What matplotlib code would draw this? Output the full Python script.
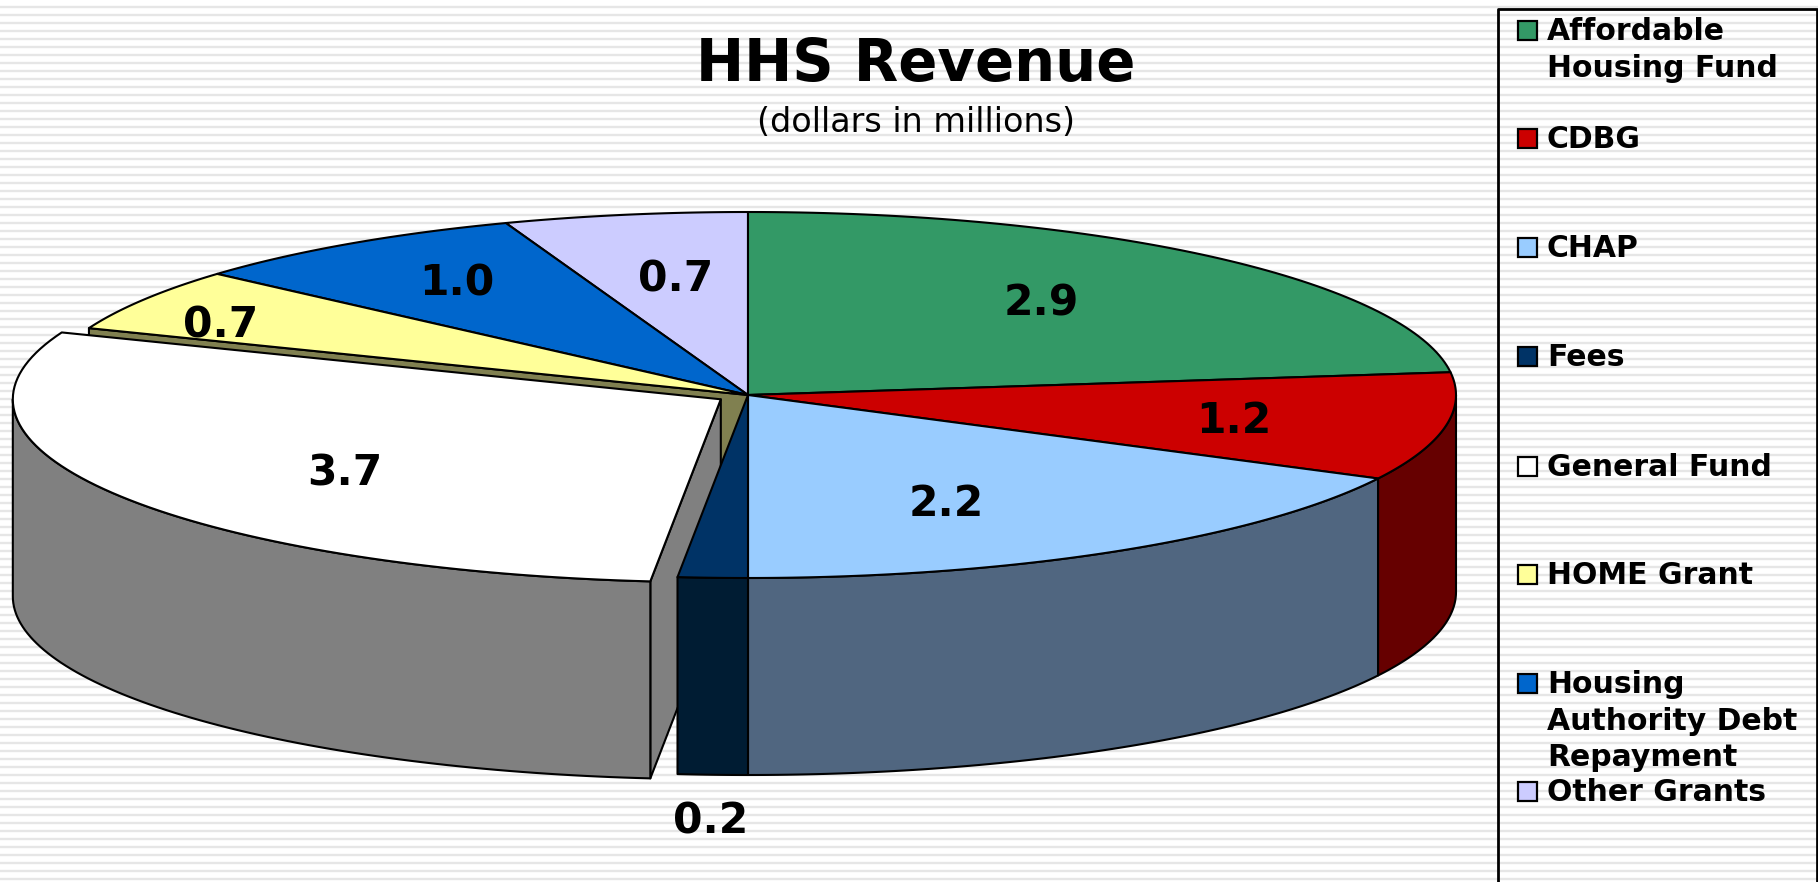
import numpy as np
import matplotlib
matplotlib.use('Agg')
import matplotlib.pyplot as plt
from matplotlib.patches import Polygon, Rectangle

names = ['Affordable\nHousing Fund', 'CDBG', 'CHAP', 'Fees', 'General Fund',
         'HOME Grant', 'Housing\nAuthority Debt\nRepayment', 'Other Grants']
values = [2.9, 1.2, 2.2, 0.2, 3.7, 0.7, 1.0, 0.7]
top_colors = ['#339966', '#CC0000', '#99CCFF', '#003366', '#FFFFFF', '#FFFF99', '#0066CC', '#CCCCFF']
side_colors = ['#1A4D33', '#660000', '#506680', '#001C33', '#808080', '#808050', '#003366', '#666680']

# layout of the fake 3d pie, figure pixels
cx, cy = 748, 395
rx, ry = 708, 183
depth = 197
explode = 0.045

fig = plt.figure(figsize=(18.18, 8.82), dpi=100)
ax = fig.add_axes([0, 0, 1, 1])
ax.set_xlim(0, 1818)
ax.set_ylim(882, 0)
ax.axis('off')

# striped slide background
for y in np.arange(6.5, 882, 8):
    ax.axhline(y, color='#E6E6E6', lw=1.7, zorder=0)


def pt(t, x0, y0):
    r = np.radians(t)
    return x0 + rx * np.sin(r), y0 - ry * np.cos(r)


def arc(t0, t1, x0, y0):
    ts = np.linspace(t0, t1, 80)
    return np.column_stack(pt(ts, x0, y0))


def add_poly(xy, color, z):
    ax.add_patch(Polygon(xy, closed=True, fc=color, ec='black', lw=1.5, joinstyle='round', zorder=z))


edges = np.concatenate([[0], np.cumsum(values)]) / sum(values) * 360
offsets = []
for i in range(len(values)):
    mid = np.radians((edges[i] + edges[i + 1]) / 2)
    d = explode if names[i] == 'General Fund' else 0
    offsets.append((cx + d * rx * np.sin(mid), cy - d * ry * np.cos(mid)))

# wall of the slice next to the pulled out one
i = names.index('HOME Grant')
x0, y0 = offsets[i]
a = np.array(pt(edges[i], x0, y0))
add_poly([(x0, y0), a, a + (0, depth), (x0, y0 + depth)], side_colors[i], 2)

# walls and tops, back to front
for i in [7, 6, 5, 0, 4, 1, 2, 3]:
    x0, y0 = offsets[i]
    t0, t1 = edges[i], edges[i + 1]
    z = 5 if i in (1, 2, 3) else 3
    if names[i] == 'General Fund':
        b = np.array(pt(t0, x0, y0))
        add_poly([(x0, y0), b, b + (0, depth), (x0, y0 + depth)], side_colors[i], z)
    lo, hi = max(t0, 90), min(t1, 270)
    if lo < hi:
        top = arc(lo, hi, x0, y0)
        add_poly(np.vstack([top, (top + (0, depth))[::-1]]), side_colors[i], z)
    add_poly(np.vstack([[(x0, y0)], arc(t0, t1, x0, y0)]), top_colors[i], z + 0.5)

# data labels
label_pos = [(1041, 304), (1234, 421), (946, 504), (711, 821), (345, 474), (221, 326), (457, 283), (676, 279)]
for v, (lx, ly) in zip(values, label_pos):
    ax.text(lx, ly, f'{v:.1f}', ha='center', va='center', fontsize=30.5, fontweight='bold', color='black', zorder=10)

# title
ax.text(916, 65, 'HHS Revenue', ha='center', va='center', fontsize=41.5, fontweight='bold', color='black')
ax.text(916, 122, '(dollars in millions)', ha='center', va='center', fontsize=24, color='black')

# legend panel, runs off the bottom of the slide
ax.plot([1498, 1498, 1817, 1817], [882, 9, 9, 882], color='black', lw=2, zorder=6, clip_on=False)
legend_y = [30, 138, 247, 356, 466, 574, 683, 791]
for name, c, y in zip(names, top_colors, legend_y):
    ax.add_patch(Rectangle((1518, y - 9), 19, 19, fc=c, ec='black', lw=1.6, zorder=6))
    ax.text(1547, y - 13, name, ha='left', va='top', fontsize=21.5, fontweight='bold',
            linespacing=1.33, color='black', zorder=6)

fig.savefig('out.png', dpi=100)
